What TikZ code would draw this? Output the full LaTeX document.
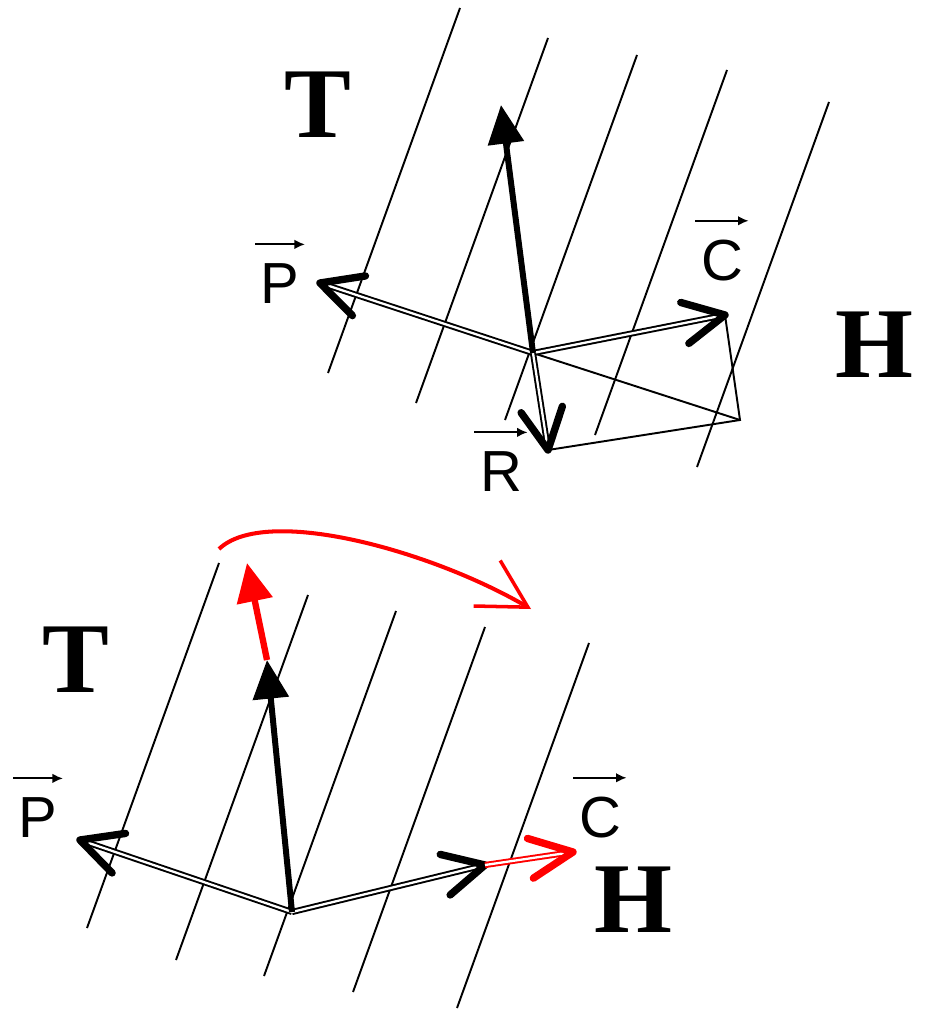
\documentclass[tikz,border=0pt]{standalone}
\usepackage{fontspec}
\setmainfont{Liberation Serif}
\newfontfamily\labelsans{Liberation Sans}
\usetikzlibrary{arrows.meta,calc}
\definecolor{vred}{HTML}{FF0000}

\begin{document}
\begin{tikzpicture}[
  x=0.02cm, y=-0.02cm,
  grid/.style={line width=1.1pt},
  vec/.style={line width=1.1pt, double, double distance=1.3pt},
  vhead/.style={line width=4.2pt, line cap=round, line join=round},
  force/.style={line width=3.4pt, -{Triangle[length=22pt, width=20pt]}},
  vlab/.style={font=\labelsans\fontsize{33}{33}\selectfont, inner sep=0pt},
  big/.style={font=\fontsize{57}{57}\selectfont\bfseries, inner sep=0pt},
  ovarr/.style={-{Latex[length=6pt, width=5.5pt]}, line width=1.1pt},
]
  \useasboundingbox (0,0) rectangle (924,1010);

  % Upper diagram
  \coordinate (O) at (533,353);
  \coordinate (Ttip) at (501,105);
  \coordinate (Ptip) at (320,283);
  \coordinate (Ctip) at (725,315);
  \coordinate (Rtip) at (548,450);
  \coordinate (D) at (740,420);

  \foreach \x/\y in {460/8, 548/38, 637/55, 727/70, 829/102}
    \draw[grid] (\x,\y) -- ++(-132,365);

  \draw[grid] (Ctip) -- (D) -- (Rtip);
  \draw[grid] (O) -- (D);

  \foreach \p in {Ptip, Ctip, Rtip} {
    \draw[vec] (O) -- (\p);
    \draw[vhead] ($(\p)!0.92cm!27:(O)$) -- (\p) -- ($(\p)!0.92cm!-27:(O)$);
  }
  \draw[force] (O) -- (Ttip);

  \node[big] (Tup) at (318,105) {T};
  \node[big] (Hup) at (874,345) {H};
  \node[vlab] (Plab) at (280,284) {P};
  \node[vlab] (Clab) at (722,261) {C};
  \node[vlab] (Rlab) at (501,472) {R};

  % Lower diagram
  \coordinate (O2) at (292,912);
  \coordinate (T2tip) at (267,660);
  \coordinate (Ttop) at (247,563);
  \coordinate (P2tip) at (80,840);
  \coordinate (C2tip) at (485,865);
  \coordinate (Cnew) at (573,852);
  \coordinate (arcA) at (219,549);
  \coordinate (arcB) at (531,609);

  \foreach \x/\y in {219/563, 308/595, 396/611, 485/627, 589/643}
    \draw[grid] (\x,\y) -- ++(-132,365);

  \foreach \p in {P2tip, C2tip} {
    \draw[vec] (O2) -- (\p);
    \draw[vhead] ($(\p)!0.92cm!27:(O2)$) -- (\p) -- ($(\p)!0.92cm!-27:(O2)$);
  }
  \draw[force] (O2) -- (T2tip);

  % red: turned vectors
  \draw[force, vred, line width=3.6pt] (T2tip) -- (Ttop);
  \draw[vec, vred] (C2tip) -- (Cnew);
  \draw[vhead, vred] ($(Cnew)!0.95cm!25:(C2tip)$) -- (Cnew) -- ($(Cnew)!0.95cm!-25:(C2tip)$);
  \draw[vred, line width=2.3pt, -{Straight Barb[length=27pt, width=30pt, line width=2pt]}]
    (arcA) .. controls (265,505) and (430,550) .. (arcB);

  \node[big] (Tlow) at (76,660) {T};
  \node[big] (Hlow) at (633,900) {H};
  \node[vlab] (P2lab) at (38,818) {P};
  \node[vlab] (C2lab) at (600,818) {C};

  \foreach \n in {Plab, Clab, Rlab, P2lab, C2lab}
    \draw[ovarr] ([xshift=-3pt, yshift=11pt]\n.north west) -- ([xshift=3pt, yshift=11pt]\n.north east);
\end{tikzpicture}
\end{document}
